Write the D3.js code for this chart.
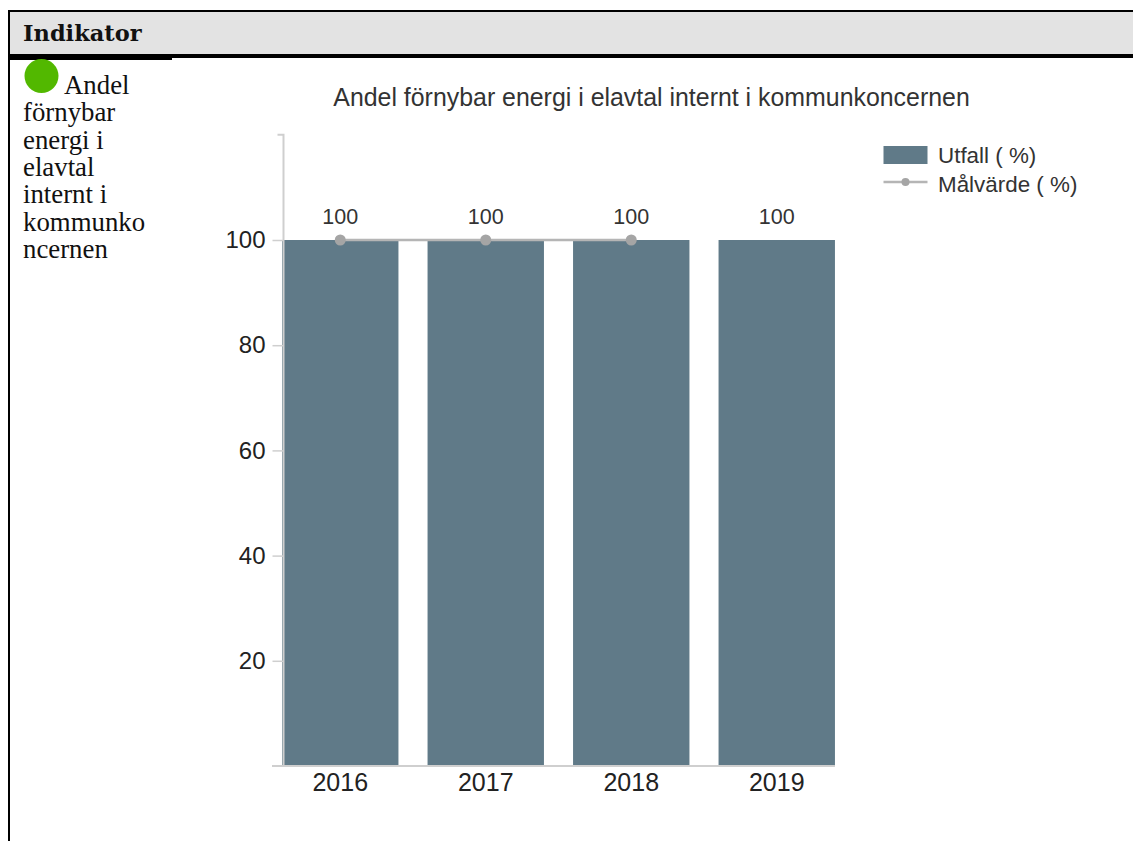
<!DOCTYPE html>
<html><head><meta charset="utf-8">
<script src="https://cdn.jsdelivr.net/npm/d3@7/dist/d3.min.js"></script>
<style>html,body{margin:0;padding:0;background:#fff;overflow:hidden}svg{display:block}</style>
</head><body><svg id="c" width="1133" height="841"></svg>
<script>
const years = ["2016","2017","2018","2019"];
const utfall = [100,100,100,100];
const malvarde = [100,100,100,null];
const yTicks = [20,40,60,80,100];
const titleText = "Andel förnybar energi i elavtal internt i kommunkoncernen";
const headerText = "Indikator";
const indicatorLines = ["Andel","förnybar","energi i","elavtal","internt i","kommunko","ncernen"];
const legendLabels = ["Utfall ( %)","Målvärde ( %)"];

const svg = d3.select("#c");
const sans = "'Liberation Sans',Arial,sans-serif", serif = "'Liberation Serif',serif";
// table frame
svg.append("rect").attr("x",10).attr("y",12).attr("width",1123).attr("height",42).attr("fill","#e3e3e3");
svg.append("rect").attr("x",8).attr("y",10).attr("width",1125).attr("height",2).attr("fill","#000");
svg.append("rect").attr("x",8).attr("y",54).attr("width",1125).attr("height",4).attr("fill","#000");
svg.append("rect").attr("x",8).attr("y",58).attr("width",164).attr("height",2).attr("fill","#000");
svg.append("rect").attr("x",8).attr("y",10).attr("width",2).attr("height",831).attr("fill","#000");
svg.append("text").attr("x",23).attr("y",41).attr("font-family","'DejaVu Serif',serif").attr("font-weight","bold").attr("font-size",22.5).attr("fill","#111").text(headerText);
svg.append("circle").attr("cx",41.5).attr("cy",76).attr("r",17).attr("fill","#52b800");
svg.selectAll(".ind").data(indicatorLines).join("text").attr("class","ind")
  .attr("x",(d,i)=>i?23:64).attr("y",(d,i)=>94+i*27.3)
  .attr("font-family",serif).attr("font-size",26.8).attr("fill","#111").text(d=>d);

const x = d3.scaleBand().domain(years).range([267.5,849.5]).paddingInner(0.2).paddingOuter(0.1);
const y = d3.scaleLinear().domain([0,120]).range([766,134.8]);
const axisC = "#cfcfcf";

svg.append("text").attr("x",651.5).attr("y",106).attr("text-anchor","middle").attr("font-family",sans).attr("font-size",24.9).attr("fill","#333").text(titleText);

svg.selectAll(".bar").data(utfall).join("rect").attr("class","bar")
  .attr("x",(d,i)=>x(years[i])).attr("y",d=>y(d)).attr("width",x.bandwidth()).attr("height",d=>y(0)-y(d)).attr("fill","#607a88");

const yAxis = svg.append("g").attr("transform","translate(283.5,0)")
  .call(d3.axisLeft(y).tickValues(yTicks).tickSize(11).tickPadding(7));
yAxis.select(".domain").attr("stroke",axisC).attr("stroke-width",2).attr("d",`M-6,${y(120)}H0V${y(0)}`);
yAxis.selectAll(".tick line").attr("stroke",axisC).attr("stroke-width",1.5);
yAxis.selectAll("text").attr("font-family",sans).attr("font-size",24).attr("fill","#222");

const xAxis = svg.append("g").attr("transform",`translate(0,${y(0)})`)
  .call(d3.axisBottom(x).tickSize(0).tickPadding(7.5));
xAxis.select(".domain").attr("stroke",axisC).attr("stroke-width",2).attr("d",`M272,0H${x(years[3])+x.bandwidth()}`);
xAxis.selectAll("text").attr("font-family",sans).attr("font-size",25).attr("fill","#222");

const line = d3.line().defined(d=>d!=null).x((d,i)=>x(years[i])+x.bandwidth()/2).y(d=>y(d));
svg.append("path").datum(malvarde).attr("d",line).attr("fill","none").attr("stroke","#b5b5b5").attr("stroke-width",2.5);
svg.selectAll(".pt").data(malvarde.map((v,i)=>({v,i})).filter(d=>d.v!=null)).join("circle").attr("class","pt")
  .attr("cx",d=>x(years[d.i])+x.bandwidth()/2).attr("cy",d=>y(d.v)).attr("r",5.5).attr("fill","#a5a5a5");

svg.selectAll(".lab").data(utfall).join("text").attr("class","lab")
  .attr("x",(d,i)=>x(years[i])+x.bandwidth()/2).attr("y",d=>y(d)-16).attr("text-anchor","middle")
  .attr("font-family",sans).attr("font-size",21.5).attr("fill","#333").text(d=>d);

// legend
svg.append("rect").attr("x",883.5).attr("y",146).attr("width",44).attr("height",18).attr("fill","#607a88");
svg.append("line").attr("x1",883.5).attr("x2",927.5).attr("y1",182).attr("y2",182).attr("stroke","#b5b5b5").attr("stroke-width",2.5);
svg.append("circle").attr("cx",905.5).attr("cy",182).attr("r",4).attr("fill","#a5a5a5");
svg.selectAll(".leg").data(legendLabels).join("text").attr("class","leg")
  .attr("x",938).attr("y",(d,i)=>163+i*29).attr("font-family",sans).attr("font-size",22.4).attr("fill","#333").text(d=>d);
</script></body></html>
